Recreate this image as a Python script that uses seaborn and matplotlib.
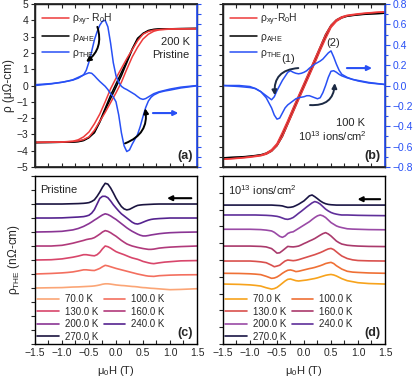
import numpy as np
import pandas as pd
import seaborn as sns
import matplotlib
matplotlib.use("Agg")
import matplotlib.pyplot as plt
from matplotlib.ticker import MultipleLocator, NullFormatter

sns.set_theme(style="ticks")
plt.rcParams["font.family"] = ["Liberation Sans", "DejaVu Sans"]
plt.rcParams["mathtext.default"] = "regular"
plt.rcParams["axes.unicode_minus"] = True

# ---------------- data ----------------
H_loop = [-1.5, -1.2, -1.0, -0.8, -0.7, -0.6, -0.5, -0.4, -0.3, -0.2, -0.1, 0.0,
          0.1, 0.2, 0.3, 0.4, 0.5, 0.6, 0.7, 0.8, 1.0, 1.2, 1.5]
H_the = [-1.5, -1.2, -1.0, -0.9, -0.8, -0.7, -0.6, -0.55, -0.5, -0.45, -0.4, -0.35,
         -0.3, -0.25, -0.2, -0.15, -0.1, -0.05, 0.0, 0.05, 0.1, 0.15, 0.2, 0.25,
         0.3, 0.35, 0.4, 0.45, 0.5, 0.55, 0.6, 0.65, 0.7, 0.8, 0.9, 1.0, 1.2, 1.5]

# panel (a): 200 K pristine
a_red_up = [-3.5, -3.48, -3.47, -3.43, -3.4, -3.32, -3.15, -2.75, -2.2, -1.65, -1.05, -0.45,
            0.2, 1.0, 1.75, 2.35, 2.85, 3.15, 3.33, 3.42, 3.46, 3.47, 3.48]
a_red_down = [-3.48, -3.47, -3.46, -3.42, -3.33, -3.15, -2.85, -2.35, -1.75, -1.0, -0.2, 0.45,
              1.05, 1.65, 2.2, 2.75, 3.15, 3.32, 3.4, 3.43, 3.47, 3.48, 3.5]
a_black_up = [-3.5, -3.49, -3.48, -3.46, -3.42, -3.35, -3.18, -2.9, -2.25, -1.5, -0.8, -0.1,
              0.6, 1.4, 2.2, 2.85, 3.2, 3.38, 3.45, 3.47, 3.48, 3.49, 3.5]
a_black_down = [-3.5, -3.49, -3.48, -3.47, -3.45, -3.38, -3.2, -2.85, -2.2, -1.4, -0.6, 0.1,
                0.8, 1.5, 2.25, 2.9, 3.18, 3.35, 3.42, 3.46, 3.48, 3.49, 3.5]
a_the_down = [0.008, 0.019, 0.032, 0.042, 0.053, 0.072, 0.104, 0.15, 0.232, 0.336, 0.448, 0.528,
              0.592, 0.632, 0.64, 0.576, 0.416, 0.224, 0.096, 0.032, -0.008, -0.027, -0.04, -0.056,
              -0.072, -0.088, -0.109, -0.128, -0.136, -0.128, -0.112, -0.096, -0.08, -0.061,
              -0.048, -0.035, -0.016, 0.0]
a_the_up = [0.0, 0.016, 0.032, 0.043, 0.056, 0.08, 0.104, 0.115, 0.125, 0.12, 0.096, 0.067,
            0.04, 0.016, -0.008, -0.04, -0.08, -0.112, -0.16, -0.288, -0.464, -0.592, -0.648,
            -0.632, -0.576, -0.528, -0.48, -0.4, -0.304, -0.216, -0.152, -0.115, -0.093, -0.067,
            -0.054, -0.045, -0.024, -0.003]

# panel (b): 100 K, 1e13 ions/cm2
b_red_up = [-3.62, -3.57, -3.52, -3.45, -3.37, -3.22, -2.95, -2.5, -1.9, -1.3, -0.7, -0.1,
            0.5, 1.1, 1.72, 2.3, 2.85, 3.15, 3.32, 3.42, 3.5, 3.56, 3.62]
b_red_down = [-3.62, -3.56, -3.5, -3.42, -3.32, -3.15, -2.85, -2.3, -1.72, -1.1, -0.5, 0.1,
              0.7, 1.3, 1.9, 2.5, 2.95, 3.22, 3.37, 3.45, 3.52, 3.57, 3.62]
b_black_up = [-3.55, -3.52, -3.48, -3.42, -3.36, -3.22, -2.95, -2.5, -1.88, -1.27, -0.65, -0.05,
              0.55, 1.15, 1.78, 2.38, 2.9, 3.18, 3.32, 3.4, 3.47, 3.51, 3.55]
b_black_down = [-3.55, -3.51, -3.47, -3.4, -3.32, -3.18, -2.9, -2.38, -1.78, -1.15, -0.55, 0.05,
                0.65, 1.27, 1.88, 2.5, 2.95, 3.22, 3.36, 3.42, 3.48, 3.52, 3.55]
b_the_down = [0.0, 0.0, -0.01, -0.03, -0.06, -0.1, -0.14, -0.11, -0.05, 0.0, 0.05, 0.09,
              0.13, 0.145, 0.13, 0.12, 0.115, 0.12, 0.13, 0.145, 0.17, 0.19, 0.21, 0.225,
              0.24, 0.26, 0.29, 0.32, 0.34, 0.28, 0.21, 0.15, 0.11, 0.08, 0.06, 0.05, 0.03, 0.01]
b_the_up = [0.0, -0.01, -0.02, -0.03, -0.06, -0.12, -0.22, -0.29, -0.33, -0.32, -0.27, -0.22,
            -0.19, -0.17, -0.15, -0.13, -0.12, -0.115, -0.11, -0.1, -0.1, -0.11, -0.12, -0.13,
            -0.12, -0.07, 0.0, 0.08, 0.14, 0.145, 0.13, 0.11, 0.095, 0.075, 0.06, 0.045, 0.025, 0.01]

temps = ["70.0 K", "100.0 K", "130.0 K", "160.0 K", "200.0 K", "240.0 K", "270.0 K"]

# panel (c): pristine, rho_THE vs H (down sweep), stacked
c_offsets = [0, 1, 2, 3, 4, 5, 6]
c_curves = [
    [0, 0.02, 0.03, 0.05, 0.07, 0.08, 0.1, 0.11, 0.12, 0.13, 0.15, 0.18, 0.22, 0.27, 0.3, 0.3,
     0.28, 0.25, 0.22, 0.2, 0.18, 0.17, 0.15, 0.13, 0.11, 0.1, 0.08, 0.05, 0.03, 0.02, 0.0,
     -0.02, -0.03, -0.06, -0.09, -0.12, -0.1, -0.05],
    [0, 0.04, 0.08, 0.11, 0.15, 0.22, 0.3, 0.3, 0.28, 0.26, 0.25, 0.32, 0.4, 0.52, 0.62, 0.58,
     0.52, 0.46, 0.4, 0.35, 0.3, 0.25, 0.2, 0.15, 0.1, 0.05, 0.0, -0.04, -0.08, -0.12, -0.15,
     -0.16, -0.17, -0.12, -0.1, -0.08, -0.06, -0.05],
    [0, 0.02, 0.08, 0.14, 0.2, 0.28, 0.38, 0.38, 0.35, 0.32, 0.3, 0.38, 0.55, 0.8, 1.0, 0.95,
     0.85, 0.72, 0.6, 0.52, 0.45, 0.38, 0.3, 0.22, 0.15, 0.1, 0.05, -0.02, -0.1, -0.15, -0.2,
     -0.24, -0.26, -0.2, -0.15, -0.12, -0.06, -0.04],
    [0, 0, 0.05, 0.12, 0.2, 0.3, 0.4, 0.46, 0.5, 0.53, 0.6, 0.72, 0.85, 1.0, 1.1, 1.05, 0.95,
     0.82, 0.7, 0.55, 0.4, 0.27, 0.15, 0.07, 0.0, -0.05, -0.1, -0.14, -0.18, -0.21, -0.24,
     -0.24, -0.22, -0.15, -0.11, -0.08, -0.04, 0],
    [0, 0.02, 0.05, 0.1, 0.15, 0.25, 0.4, 0.5, 0.6, 0.72, 0.85, 0.97, 1.1, 1.22, 1.3, 1.25,
     1.15, 1.02, 0.9, 0.75, 0.6, 0.45, 0.3, 0.17, 0.05, -0.05, -0.15, -0.23, -0.28, -0.28,
     -0.25, -0.21, -0.18, -0.12, -0.08, -0.05, -0.02, 0],
    [0, 0, 0.01, 0.03, 0.05, 0.07, 0.1, 0.14, 0.2, 0.35, 0.6, 1.0, 1.4, 1.55, 1.55, 1.45, 1.22,
     0.95, 0.72, 0.5, 0.3, 0.15, 0.0, -0.15, -0.3, -0.4, -0.43, -0.38, -0.3, -0.22, -0.15,
     -0.1, -0.07, -0.04, -0.02, 0, 0, 0],
    [0, 0, 0, 0.01, 0.02, 0.03, 0.05, 0.07, 0.1, 0.18, 0.3, 0.55, 0.85, 1.2, 1.48, 1.42, 1.15,
     0.8, 0.42, 0.1, -0.18, -0.35, -0.42, -0.38, -0.28, -0.18, -0.1, -0.07, -0.05, -0.04,
     -0.03, -0.02, -0.01, 0, 0, 0, 0, 0],
]
c_colors = ["#fba576", "#f36f5f", "#d8466b", "#b13a7b", "#8a3594", "#55238f", "#1b1440"]

# panel (d): 1e13 ions/cm2
d_offsets = [3.57, 4.21, 4.94, 5.83, 6.83, 7.68, 8.27]
d_curves = [
    [0, -0.02, -0.05, -0.08, -0.12, -0.22, -0.3, -0.27, -0.2, -0.08, 0.05, 0.18, 0.28, 0.3,
     0.25, 0.2, 0.18, 0.2, 0.22, 0.24, 0.27, 0.3, 0.33, 0.37, 0.42, 0.47, 0.52, 0.55, 0.57,
     0.54, 0.48, 0.4, 0.32, 0.2, 0.14, 0.08, 0.03, 0],
    [0, -0.01, -0.03, -0.05, -0.08, -0.18, -0.3, -0.28, -0.22, -0.12, 0.0, 0.1, 0.18, 0.2,
     0.16, 0.1, 0.12, 0.16, 0.2, 0.24, 0.28, 0.31, 0.35, 0.4, 0.45, 0.51, 0.58, 0.62, 0.65,
     0.58, 0.45, 0.35, 0.25, 0.12, 0.07, 0.05, 0.02, 0],
    [0, 0, 0, -0.02, -0.05, -0.1, -0.25, -0.34, -0.3, -0.25, -0.12, 0.0, 0.06, 0.04, 0.02,
     0.04, 0.08, 0.13, 0.18, 0.23, 0.28, 0.33, 0.38, 0.44, 0.5, 0.57, 0.65, 0.72, 0.75, 0.68,
     0.55, 0.42, 0.3, 0.15, 0.07, 0.03, 0.01, 0],
    [0, 0, 0, -0.01, -0.02, -0.05, -0.15, -0.28, -0.42, -0.4, -0.28, -0.15, -0.02, -0.04,
     -0.05, -0.03, 0.0, 0.07, 0.15, 0.22, 0.3, 0.37, 0.45, 0.55, 0.65, 0.74, 0.8, 0.72, 0.6,
     0.45, 0.3, 0.2, 0.12, 0.05, 0.02, 0, -0.02, -0.03],
    [0, 0, 0, -0.01, -0.02, -0.05, -0.1, -0.18, -0.3, -0.42, -0.48, -0.4, -0.25, -0.18, -0.15,
     -0.05, 0.05, 0.15, 0.25, 0.35, 0.45, 0.58, 0.7, 0.8, 0.85, 0.8, 0.7, 0.55, 0.4, 0.3, 0.2,
     0.14, 0.1, 0.03, 0.01, 0, -0.02, -0.03],
    [0, 0, 0, 0, -0.01, -0.02, -0.04, -0.06, -0.08, -0.12, -0.18, -0.24, -0.26, -0.22, -0.15,
     -0.03, 0.1, 0.22, 0.35, 0.48, 0.6, 0.72, 0.8, 0.75, 0.65, 0.5, 0.35, 0.24, 0.15, 0.09,
     0.05, 0.02, 0.0, 0, -0.01, -0.02, -0.03, -0.04],
    [0, 0, 0, 0, 0, 0, 0, -0.01, -0.02, -0.03, -0.05, -0.1, -0.14, -0.13, -0.1, -0.03, 0.05,
     0.15, 0.25, 0.4, 0.55, 0.6, 0.5, 0.38, 0.25, 0.15, 0.08, 0.04, 0.02, 0.01, 0, 0, 0, 0, 0,
     0, 0, 0],
]
d_colors = ["#f7a31c", "#ef7035", "#d9504d", "#aa3a6c", "#9a4aa6", "#5f2f9a", "#1a1545"]

# ---------------- styling ----------------
RED = "#ee3b3b"
BLUE = "#2850f5"
TFS = 7.5

fig = plt.figure(figsize=(4.15, 3.8), dpi=100)
ax_a = fig.add_axes([0.0843, 0.5605, 0.3904, 0.4289])
ax_b = fig.add_axes([0.5373, 0.5605, 0.3904, 0.4289])
ax_c = fig.add_axes([0.0843, 0.0947, 0.3904, 0.4421])
ax_d = fig.add_axes([0.5373, 0.0947, 0.3904, 0.4421])


def line(ax, x, y, color, lw=1.1, label=None):
    sns.lineplot(x=x, y=y, ax=ax, color=color, lw=lw, sort=False, estimator=None,
                 label=label, legend=False)


def style_xy(ax, labels):
    ax.set_xlim(-1.5, 1.5)
    ax.xaxis.set_major_locator(MultipleLocator(0.5))
    ax.xaxis.set_minor_locator(MultipleLocator(0.25))
    for s in ax.spines.values():
        s.set_linewidth(1.0)
        s.set_color("black")
    if labels:
        ax.tick_params(axis="x", which="both", direction="in", top=False, bottom=True,
                       length=3, width=0.8, labelsize=TFS, pad=3)
    else:
        ax.tick_params(axis="x", which="both", direction="in", top=True, bottom=True,
                       length=3, width=0.8, labelbottom=False)
    ax.tick_params(axis="y", which="both", direction="out", left=True, right=False,
                   length=3, width=0.8, labelsize=TFS, pad=2)
    ax.set_xlabel("")
    ax.set_ylabel("")


def arrow(ax, start, end, color, rad=0.0, lw=1.4, ms=7):
    ax.annotate("", xy=end, xytext=start, xycoords="axes fraction",
                textcoords="axes fraction",
                arrowprops=dict(arrowstyle="-|>", color=color, lw=lw, mutation_scale=ms,
                                shrinkA=0, shrinkB=0,
                                connectionstyle=f"arc3,rad={rad}"))


LEG_KW = dict(loc="upper left", frameon=False, fontsize=7.5, handlelength=2.6,
              handletextpad=0.3, labelspacing=0.4, borderaxespad=0.45, borderpad=0.25)

# ---- panel (a)
line(ax_a, H_loop, a_black_up, "black", label="ρ$_{AHE}$")
line(ax_a, H_loop, a_black_down, "black")
line(ax_a, H_loop, a_red_up, RED, label="ρ$_{xy}$- R$_0$H")
line(ax_a, H_loop, a_red_down, RED)
style_xy(ax_a, False)
ax_a.set_ylim(-5, 5)
ax_a.yaxis.set_major_locator(MultipleLocator(1))
ax_a.set_ylabel("ρ (μΩ-cm)", fontsize=8.5, labelpad=1)
ax_a2 = ax_a.twinx()
line(ax_a2, H_the, a_the_down, BLUE, label="ρ$_{THE}$")
line(ax_a2, H_the, a_the_up, BLUE)
ax_a2.set_ylim(-0.8, 0.8)
ax_a2.yaxis.set_major_locator(MultipleLocator(0.1))
ax_a2.tick_params(axis="y", direction="out", length=3, width=0.8, colors=BLUE,
                  labelright=False)
ax_a2.spines["right"].set_color(BLUE)
ax_a2.spines["right"].set_linewidth(1.2)
ax_a2.set_ylabel("")
ax_a2.set_xlim(-1.5, 1.5)
h1, l1 = ax_a.get_legend_handles_labels()
h2, l2 = ax_a2.get_legend_handles_labels()
hd = dict(zip(l1 + l2, h1 + h2))
order = ["ρ$_{xy}$- R$_0$H", "ρ$_{AHE}$", "ρ$_{THE}$"]
ax_a2.legend([hd[k] for k in order], order, **LEG_KW)
ax_a2.text(0.955, 0.77, "200 K", transform=ax_a2.transAxes, ha="right", va="center",
           fontsize=8)
ax_a2.text(0.955, 0.69, "Pristine", transform=ax_a2.transAxes, ha="right", va="center",
           fontsize=8)
ax_a2.text(0.975, 0.03, "(a)", transform=ax_a2.transAxes, ha="right", va="bottom",
           fontsize=9, fontweight="bold")
arrow(ax_a2, (0.385, 0.86), (0.315, 0.645), "black", rad=-0.35)
arrow(ax_a2, (0.556, 0.145), (0.68, 0.36), "black", rad=0.4)
arrow(ax_a2, (0.728, 0.331), (0.885, 0.331), BLUE, lw=1.5)

# ---- panel (b)
line(ax_b, H_loop, b_black_up, "black", label="ρ$_{AHE}$")
line(ax_b, H_loop, b_black_down, "black")
line(ax_b, H_loop, b_red_up, RED, label="ρ$_{xy}$-R$_0$H")
line(ax_b, H_loop, b_red_down, RED)
style_xy(ax_b, False)
ax_b.set_ylim(-4, 4)
ax_b.yaxis.set_major_locator(MultipleLocator(0.5))
ax_b.tick_params(axis="y", labelleft=False)
ax_b2 = ax_b.twinx()
line(ax_b2, H_the, b_the_down, BLUE, label="ρ$_{THE}$")
line(ax_b2, H_the, b_the_up, BLUE)
ax_b2.set_ylim(-0.8, 0.8)
ax_b2.set_xlim(-1.5, 1.5)
ax_b2.yaxis.set_major_locator(MultipleLocator(0.2))
ax_b2.yaxis.set_minor_locator(MultipleLocator(0.1))
ax_b2.tick_params(axis="y", which="major", direction="out", length=3.5, width=0.8,
                  colors=BLUE, labelsize=TFS, pad=2)
ax_b2.tick_params(axis="y", which="minor", direction="out", length=2, width=0.8,
                  colors=BLUE)
ax_b2.yaxis.set_major_formatter(matplotlib.ticker.FuncFormatter(
    lambda v, p: f"{v:.1f}".replace("-", "\u2212")))
ax_b2.spines["right"].set_color(BLUE)
ax_b2.spines["right"].set_linewidth(1.2)
ax_b2.set_ylabel("")
h1, l1 = ax_b.get_legend_handles_labels()
h2, l2 = ax_b2.get_legend_handles_labels()
hd = dict(zip(l1 + l2, h1 + h2))
order = ["ρ$_{xy}$-R$_0$H", "ρ$_{AHE}$", "ρ$_{THE}$"]
ax_b2.legend([hd[k] for k in order], order, **LEG_KW)
ax_b2.text(0.875, 0.27, "100 K", transform=ax_b2.transAxes, ha="right", va="center",
           fontsize=8)
ax_b2.text(0.89, 0.19, "10$^{13}$ ions/cm$^2$", transform=ax_b2.transAxes, ha="right",
           va="center", fontsize=8)
ax_b2.text(0.975, 0.03, "(b)", transform=ax_b2.transAxes, ha="right", va="bottom",
           fontsize=9, fontweight="bold")
ax_b2.text(0.405, 0.665, "(1)", transform=ax_b2.transAxes, ha="center", va="center",
           fontsize=8)
ax_b2.text(0.68, 0.76, "(2)", transform=ax_b2.transAxes, ha="center", va="center",
           fontsize=8)
NAVY = "#1c2a44"
arrow(ax_b2, (0.465, 0.607), (0.32, 0.44), NAVY, rad=0.5)
arrow(ax_b2, (0.537, 0.38), (0.69, 0.515), NAVY, rad=0.5)
arrow(ax_b2, (0.765, 0.607), (0.92, 0.607), BLUE, lw=1.5)


# ---- panels (c), (d)
def stack_panel(ax, curves, offsets, colors, ylim, tick_step, title, xlim_arrow, tag):
    for lab, vals, off, col in zip(temps, curves, offsets, colors):
        y = [v + off for v in vals]
        line(ax, H_the, y, col, lw=1.2, label=lab)
    style_xy(ax, True)
    ax.set_ylim(*ylim)
    ax.yaxis.set_major_locator(MultipleLocator(tick_step))
    ax.tick_params(axis="y", labelleft=False)
    ax.xaxis.set_major_formatter(matplotlib.ticker.FuncFormatter(
        lambda v, p: f"{v:.1f}".replace("-", "\u2212")))
    ax.set_xlabel("μ$_0$H (T)", fontsize=8, labelpad=4)
    ax.text(0.03, 0.915, title, transform=ax.transAxes, ha="left", va="center", fontsize=8)
    ax.text(0.975, 0.03, tag, transform=ax.transAxes, ha="right", va="bottom",
            fontsize=9, fontweight="bold")
    arrow(ax, xlim_arrow[0], xlim_arrow[1], "black", lw=1.5)
    h, l = ax.get_legend_handles_labels()
    hd = dict(zip(l, h))
    order = ["70.0 K", "130.0 K", "200.0 K", "270.0 K", "100.0 K", "160.0 K", "240.0 K"]
    ax.legend([hd[k] for k in order], order, loc="lower left", ncol=2, frameon=False,
              fontsize=7, handlelength=2.2, handletextpad=0.6, labelspacing=0.25,
              columnspacing=0.6, borderaxespad=0.15, borderpad=0.1)


stack_panel(ax_c, c_curves, c_offsets, c_colors, (-4, 8), 1, "Pristine",
            ((0.965, 0.868), (0.815, 0.868)), "(c)")
ax_c.set_ylabel("ρ$_{THE}$ (nΩ-cm)", fontsize=8.5, labelpad=6)
stack_panel(ax_d, d_curves, d_offsets, d_colors, (0, 10), 1, "10$^{13}$ ions/cm$^2$",
            ((0.97, 0.862), (0.83, 0.862)), "(d)")

fig.savefig("out.png", dpi=100)
